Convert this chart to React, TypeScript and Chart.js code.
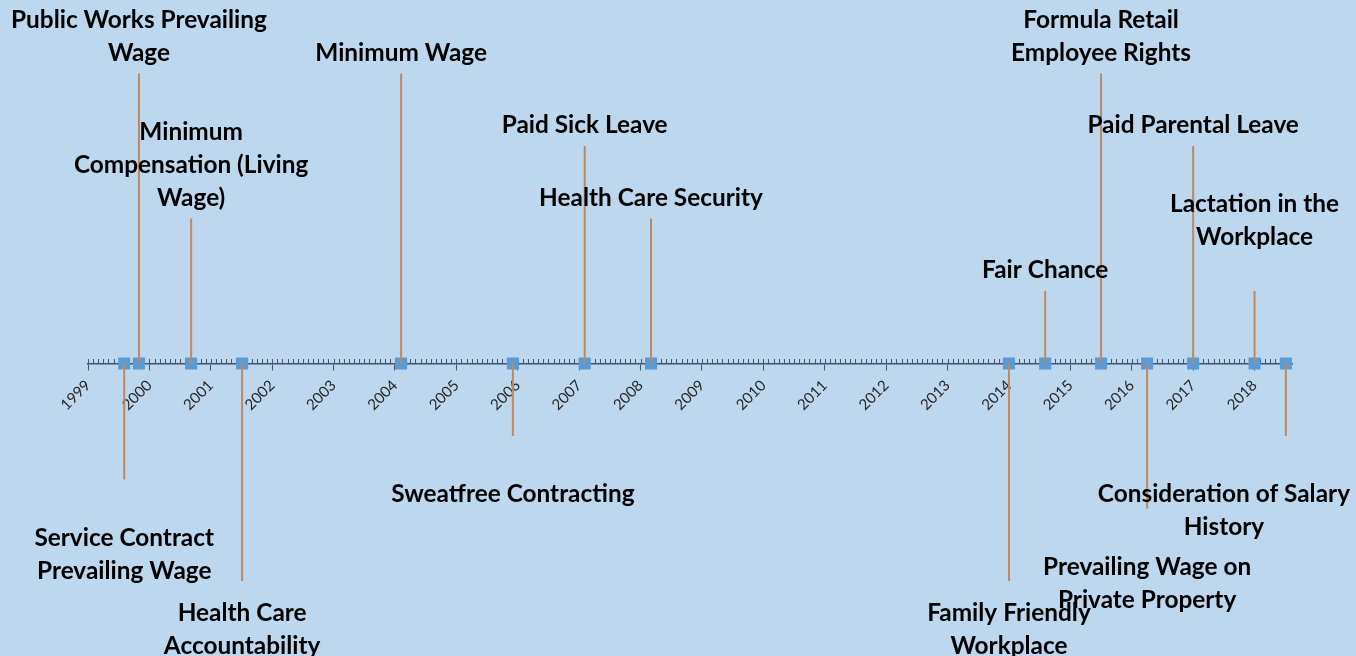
import React, { useEffect, useRef } from "react";
import { Chart, registerables } from "chart.js";

Chart.register(...registerables);

// ---- data ----
const eventNames: string[] = [
  "Service Contract\nPrevailing Wage",
  "Public Works Prevailing\nWage",
  "Minimum\nCompensation (Living\nWage)",
  "Health Care\nAccountability",
  "Minimum Wage",
  "Sweatfree Contracting",
  "Paid Sick Leave",
  "Health Care Security",
  "Family Friendly\nWorkplace",
  "Fair Chance",
  "Formula Retail\nEmployee Rights",
  "Prevailing Wage on\nPrivate Property",
  "Paid Parental Leave",
  "Lactation in the\nWorkplace\n",
  "Consideration of Salary\nHistory",
];
const eventDates: number[] = [
  1999.59, 1999.83, 2000.68, 2001.51, 2004.1, 2005.92, 2007.09, 2008.17,
  2014.0, 2014.59, 2015.5, 2016.25, 2017.0, 2018.0, 2018.51,
];
const eventLevels: number[] = [
  -1.6, 4, 2, -3, 4, -1, 3, 2, -3, 1, 4, -2, 3, 1, -1,
];
const axisMin = 1999;
const axisMax = 2018.61;

// ---- styles ----
const BG = "#BDD7EE";
const AXIS = "#44546A";
const STEM = "#C1875F";
const MARK = "#5B9BD5";
const W = 1356;
const H = 656;
const ZERO_PX = 363.5;
const UNIT_PX = 72.5;
const LINE_H = 33;

export default function App() {
  const ref = useRef<HTMLCanvasElement>(null);

  useEffect(() => {
    const canvas = ref.current!;
    const mctx = canvas.getContext("2d")!;
    mctx.font = "bold 100px Lato";
    const refW = mctx.measureText("Public Works Prevailing").width;
    const labelSize = (100 * 256) / refW;

    const stemData: { x: number; y: number | null }[] = [];
    eventDates.forEach((d, i) => {
      stemData.push({ x: d, y: 0 });
      stemData.push({ x: d, y: eventLevels[i] });
      stemData.push({ x: d, y: null });
    });
    const pointData = eventDates.map((d) => ({ x: d, y: 0 }));

    const minorTicks = {
      id: "minorTicks",
      beforeDatasetsDraw(chart: any) {
        const { ctx, scales } = chart;
        const xs = scales.x;
        const y0 = scales.y.getPixelForValue(0);
        ctx.save();
        ctx.strokeStyle = AXIS;
        ctx.lineWidth = 1;
        ctx.beginPath();
        for (let yr = Math.floor(axisMin); yr <= axisMax; yr++) {
          for (let m = 0; m < 12; m++) {
            const v = yr + m / 12;
            if (v < axisMin || v > axisMax) continue;
            const px = Math.round(xs.getPixelForValue(v)) + 0.5;
            ctx.moveTo(px, y0);
            ctx.lineTo(px, y0 - 4.5);
          }
        }
        ctx.stroke();
        ctx.restore();
      },
    };

    const labels = {
      id: "eventLabels",
      afterDatasetsDraw(chart: any) {
        const { ctx, scales } = chart;
        const xs = scales.x;
        const ys = scales.y;
        ctx.save();
        ctx.font = `bold ${labelSize}px Lato`;
        ctx.fillStyle = "#000000";
        ctx.textAlign = "center";
        ctx.textBaseline = "middle";
        eventNames.forEach((name, i) => {
          const lines = name.split("\n");
          const n = lines.length;
          const px = xs.getPixelForValue(eventDates[i]);
          const py = ys.getPixelForValue(eventLevels[i]);
          const w = Math.max(...lines.map((l) => ctx.measureText(l).width));
          const cx = Math.max(w / 2 + 6, Math.min(px, chart.width - 6 - w / 2));
          let first: number;
          if (eventLevels[i] > 0) {
            first = py - 20.5 - (n - 1) * LINE_H;
          } else {
            first = py + 58.5;
            const limit = chart.height - 10;
            if (first + (n - 1) * LINE_H > limit) first = limit - (n - 1) * LINE_H;
          }
          lines.forEach((l, k) => ctx.fillText(l, cx, first + k * LINE_H));
        });
        ctx.restore();
      },
    };

    const chart = new Chart(canvas, {
      type: "scatter",
      data: {
        datasets: [
          {
            data: stemData as any,
            showLine: true,
            spanGaps: false,
            borderColor: STEM,
            borderWidth: 2,
            pointRadius: 0,
            pointHoverRadius: 0,
          },
          {
            data: pointData,
            pointStyle: "rect",
            pointRadius: 8.5,
            pointHoverRadius: 8.5,
            backgroundColor: MARK,
            borderColor: MARK,
            borderWidth: 0,
          },
        ],
      },
      options: {
        animation: false,
        responsive: true,
        maintainAspectRatio: false,
        events: [],
        layout: { padding: { left: 88, right: W - 1292, top: 0, bottom: 0 } },
        plugins: {
          legend: { display: false },
          tooltip: { enabled: false },
        },
        scales: {
          x: {
            type: "linear",
            min: axisMin,
            max: axisMax,
            position: { y: 0 } as any,
            grid: {
              display: true,
              drawOnChartArea: false,
              drawTicks: true,
              tickLength: 6,
              color: AXIS,
              tickColor: AXIS,
              tickWidth: 1,
            },
            border: { display: true, color: AXIS, width: 1.5 },
            ticks: {
              stepSize: 1,
              includeBounds: false,
              autoSkip: false,
              minRotation: 45,
              maxRotation: 45,
              padding: 7,
              color: "#262626",
              font: { family: "Lato", size: 15 },
              callback: (v: any) => String(v),
            },
          },
          y: {
            type: "linear",
            display: false,
            min: -(H - ZERO_PX) / UNIT_PX,
            max: ZERO_PX / UNIT_PX,
          },
        },
      },
      plugins: [minorTicks, labels],
    });

    // align the value axis so that 0 sits at ZERO_PX with UNIT_PX per unit
    const ca = chart.chartArea;
    const yOpts: any = chart.options.scales!.y;
    yOpts.max = (ZERO_PX - ca.top) / UNIT_PX;
    yOpts.min = -(ca.bottom - ZERO_PX) / UNIT_PX;
    chart.update();

    return () => chart.destroy();
  }, []);

  return (
    <div
      style={{
        position: "fixed",
        left: 0,
        top: 0,
        width: W,
        height: H,
        background: BG,
      }}
    >
      <canvas ref={ref} />
    </div>
  );
}
